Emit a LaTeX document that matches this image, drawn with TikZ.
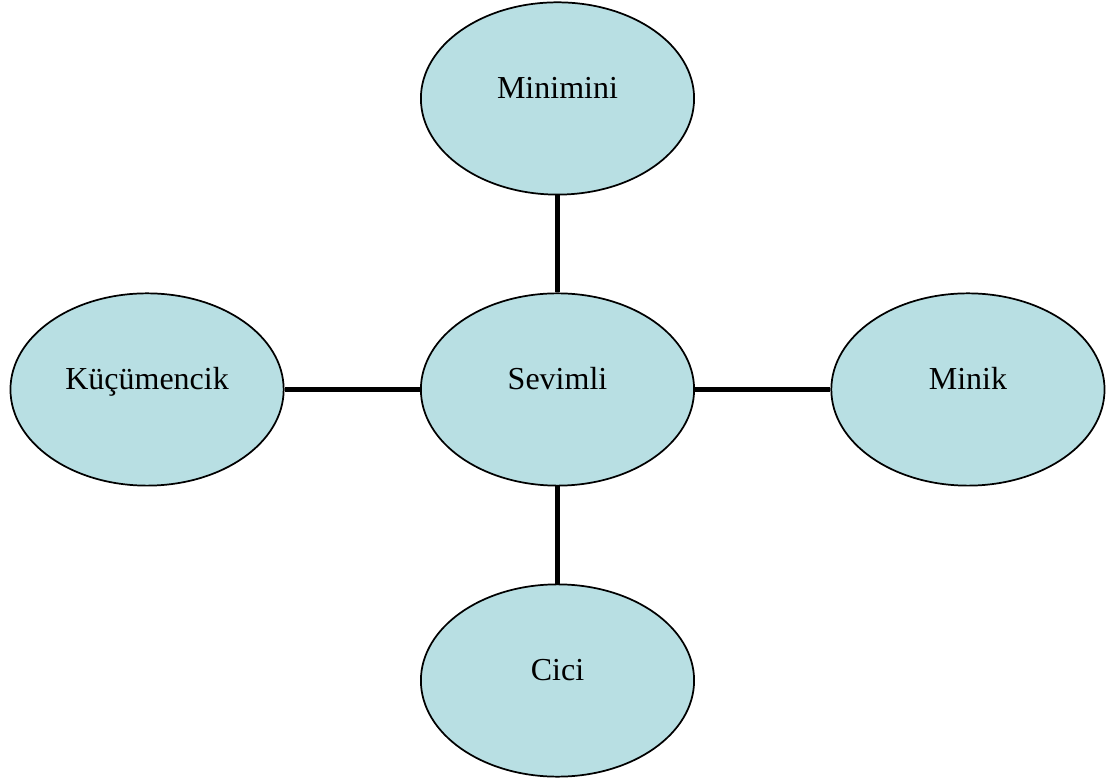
\documentclass[tikz,border=0pt]{standalone}
\usepackage{fontspec}
\setmainfont{Liberation Serif}
\usetikzlibrary{positioning,shapes.geometric}
\definecolor{bubblefill}{RGB}{184,223,227}
\tikzstyle{bubble}=[draw,fill=bubblefill,ellipse,line width=1.3pt,minimum width=204.9pt,minimum height=144.2pt,inner sep=0pt,text height=0.7em,text depth=0.7em,font=\fontsize{24}{29}\selectfont]
\tikzstyle{link}=[line width=4pt]

\begin{document}
\begin{tikzpicture}[node distance=72.75pt and 101.6pt]
\useasboundingbox (-418.1pt,-291.4pt) rectangle (419.6pt,292.1pt);
\node [bubble] (sevimli) {Sevimli};
\node [bubble,above=of sevimli] (minimini) {Minimini};
\node [bubble,below=of sevimli] (cici) {Cici};
\node [bubble,left=of sevimli] (kucumencik) {Küçümencik};
\node [bubble,right=of sevimli] (minik) {Minik};
\draw [link] (sevimli) -- (minimini);
\draw [link] (sevimli) -- (cici);
\draw [link] (sevimli) -- (kucumencik);
\draw [link] (sevimli) -- (minik);
\end{tikzpicture}
\end{document}
